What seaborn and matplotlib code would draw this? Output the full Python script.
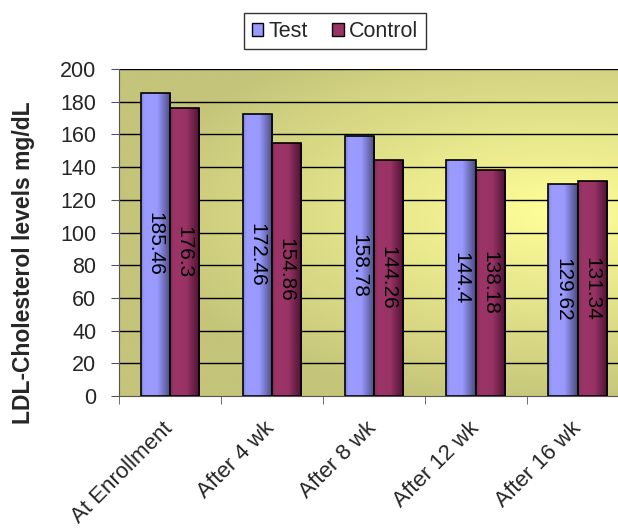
import numpy as np
import pandas as pd
import matplotlib
matplotlib.use("Agg")
import matplotlib.pyplot as plt
import seaborn as sns
from matplotlib.colors import LinearSegmentedColormap
from matplotlib.patches import Patch

# --- Data ---
categories = ["At Enrollment", "After 4 wk", "After 8 wk", "After 12 wk", "After 16 wk"]
test_values = [185.46, 172.46, 158.78, 144.4, 129.62]
control_values = [176.3, 154.86, 144.26, 138.18, 131.34]
series = ["Test", "Control"]
y_ticks = [0, 20, 40, 60, 80, 100, 120, 140, 160, 180, 200]

df = pd.DataFrame({
    "period": categories * 2,
    "group": ["Test"] * len(categories) + ["Control"] * len(categories),
    "ldl": test_values + control_values,
})

sns.set_style("white")
plt.rcParams["font.family"] = ["Liberation Sans", "DejaVu Sans"]

fig = plt.figure(figsize=(6.18, 5.29), dpi=100)
# plot area runs slightly past the right edge, like the original
ax = fig.add_axes([0.192, 0.2514, 0.825, 0.618])

# --- Background gradient (olive to pale yellow) ---
olive = np.array([196, 196, 122]) / 255
bright = np.array([255, 255, 153]) / 255
gx, gy = np.meshgrid(np.linspace(0, 1, 300), np.linspace(0, 1, 300))
t = np.sqrt(((gx - 0.86) / 0.85) ** 2 + ((gy - 0.56) / 0.6) ** 2)
t = np.clip(t, 0, 1)
bg = bright[None, None, :] * (1 - t[..., None]) + olive[None, None, :] * t[..., None]
ax.imshow(bg, extent=[-0.5, 4.5, 0, 200], origin="lower", aspect="auto", zorder=0)

# --- Bars ---
colors = {"Test": "#9999FF", "Control": "#993366"}
sns.barplot(data=df, x="period", y="ldl", hue="group", hue_order=series,
            palette=colors, width=0.57, gap=0, ax=ax, legend=False,
            edgecolor="black", linewidth=1.2, zorder=2, saturation=1)

grad = {
    "Test": LinearSegmentedColormap.from_list(
        "t", [(0, "#8383d8"), (0.12, "#9c9cff"), (0.55, "#9999ff"), (1, "#4a4a7e")]),
    "Control": LinearSegmentedColormap.from_list(
        "c", [(0, "#842b57"), (0.12, "#9c3468"), (0.55, "#993366"), (1, "#4a1230")]),
}
values_by_group = {"Test": test_values, "Control": control_values}
for container, name in zip(ax.containers, series):
    for bar, val in zip(container, values_by_group[name]):
        x0, w, h = bar.get_x(), bar.get_width(), bar.get_height()
        im = ax.imshow(np.linspace(0, 1, 64)[None, :], cmap=grad[name],
                       extent=[x0, x0 + w, 0, h], aspect="auto", zorder=2.1)
        im.set_clip_path(bar)
        bar.set_facecolor("none")
        bar.set_zorder(2.2)
        ax.text(x0 + w / 2, h / 2, str(val), rotation=270, ha="center",
                va="center", fontsize=15, color="black", zorder=3)

# --- Axes styling ---
ax.set_xlim(-0.5, 4.5)
ax.set_ylim(0, 200)
ax.set_yticks(y_ticks)
for yv in y_ticks[1:]:
    ax.axhline(yv, color="black", linewidth=1, zorder=1)

ax.set_xticks(range(len(categories)))
ax.set_xticklabels(categories, rotation=45, ha="right", va="center",
                   rotation_mode="anchor", fontsize=16)
ax.set_xticks(np.arange(-0.5, 4.6, 1), minor=True)
ax.tick_params(axis="x", which="major", length=0, pad=21)
ax.tick_params(axis="x", which="minor", length=6, color="#555555", direction="out", bottom=True)
ax.tick_params(axis="y", length=6, color="#555555", direction="out", labelsize=15.5, left=True, pad=10)

ax.set_xlabel("")
ax.set_ylabel("LDL-Cholesterol levels mg/dL", fontsize=16.5, fontweight="bold")
ax.yaxis.set_label_coords(-0.164, 0.407)

for side in ["top", "right"]:
    ax.spines[side].set_visible(False)
ax.spines["left"].set_color("#555555")
ax.spines["bottom"].set_color("#555555")
ax.spines["left"].set_zorder(4)
ax.spines["bottom"].set_zorder(4)

# --- Legend ---
handles = [Patch(facecolor=colors[s], edgecolor="black", label=s) for s in series]
leg = fig.legend(handles=handles, loc="center", bbox_to_anchor=(0.542, 0.941),
                 ncol=2, frameon=True, fancybox=False, fontsize=15.5,
                 handlelength=0.55, handleheight=0.55, handletextpad=0.25,
                 columnspacing=1.1, borderpad=0.35)
leg.get_frame().set_edgecolor("black")
leg.get_frame().set_linewidth(1)

fig.savefig("out.png", dpi=100)
